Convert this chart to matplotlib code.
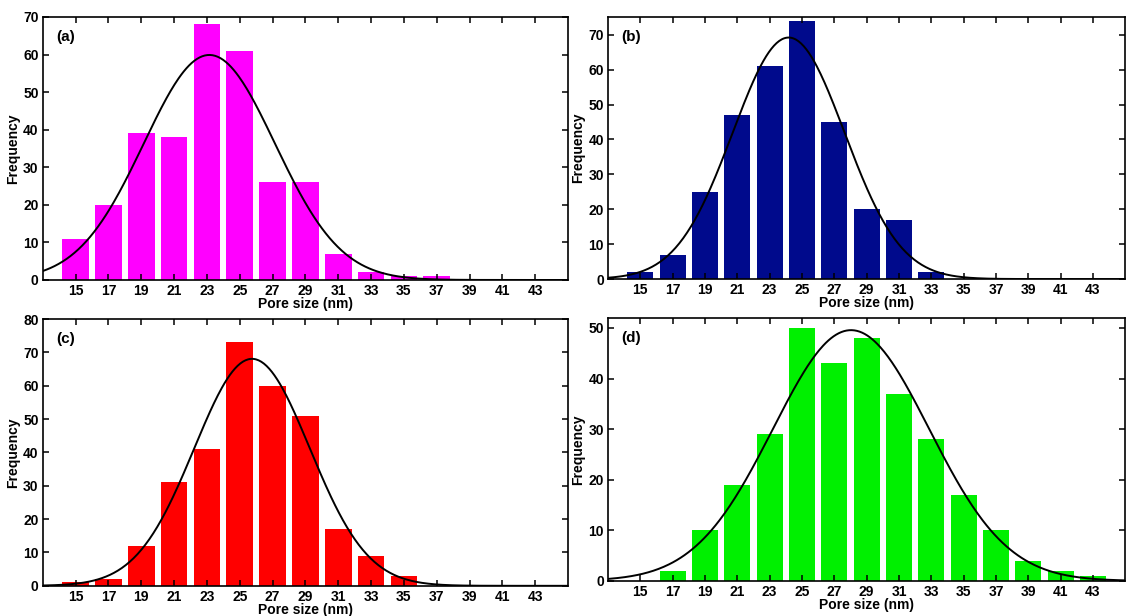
import numpy as np
import matplotlib
matplotlib.use("Agg")
import matplotlib.pyplot as plt

plt.rcParams['font.family'] = ['Liberation Sans', 'DejaVu Sans']
plt.rcParams['font.weight'] = 'bold'

# pore size bin centres (nm) and counts
sizes_a = [15, 17, 19, 21, 23, 25, 27, 29, 31, 33, 35, 37]
counts_a = [11, 20, 39, 38, 68, 61, 26, 26, 7, 2, 1, 1]

sizes_b = [15, 17, 19, 21, 23, 25, 27, 29, 31, 33]
counts_b = [2, 7, 25, 47, 61, 74, 45, 20, 17, 2]

sizes_c = [15, 17, 19, 21, 23, 25, 27, 29, 31, 33, 35]
counts_c = [1, 2, 12, 31, 41, 73, 60, 51, 17, 9, 3]

sizes_d = [17, 19, 21, 23, 25, 27, 29, 31, 33, 35, 37, 39, 41, 43]
counts_d = [2, 10, 19, 29, 50, 43, 48, 37, 28, 17, 10, 4, 2, 1]

xticks = list(range(15, 45, 2))
bin_w = 2

panels = [
    ('(a)', sizes_a, counts_a, '#ff00ff', 70, [0.038, 0.5455, 0.466, 0.427]),
    ('(b)', sizes_b, counts_b, '#000a8c', 75, [0.5395, 0.547, 0.459, 0.425]),
    ('(c)', sizes_c, counts_c, '#ff0000', 80, [0.038, 0.049, 0.466, 0.433]),
    ('(d)', sizes_d, counts_d, '#00f000', 52, [0.5395, 0.057, 0.459, 0.427]),
]

fig = plt.figure(figsize=(11.27, 6.16), dpi=100)

for label, x, y, color, ytop, pos in panels:
    ax = fig.add_axes(pos)
    x = np.array(x, dtype=float)
    y = np.array(y, dtype=float)
    ax.bar(x, y, width=1.62, color=color, edgecolor='none')

    # normal fit scaled to the histogram (like histfit)
    n = y.sum()
    mu = (x * y).sum() / n
    sd = np.sqrt(((x - mu) ** 2 * y).sum() / (n - 1))
    xx = np.linspace(13, 45, 400)
    yy = n * bin_w / (sd * np.sqrt(2 * np.pi)) * np.exp(-(xx - mu) ** 2 / (2 * sd ** 2))
    ax.plot(xx, yy, color='black', lw=1.4)

    ax.set_xlim(13, 45)
    ax.set_ylim(0, ytop)
    ax.set_xticks(xticks)
    ax.set_yticks(range(0, ytop + 1, 10))
    ax.tick_params(direction='in', top=True, right=True, length=4, width=1.1,
                   labelsize=10, pad=3)
    for t in ax.get_xticklabels() + ax.get_yticklabels():
        t.set_fontweight('bold')
    for s in ax.spines.values():
        s.set_linewidth(1.2)
    ax.set_xlabel('Pore size (nm)', fontsize=10, fontweight='bold', labelpad=-1)
    ax.set_ylabel('Frequency', fontsize=10, fontweight='bold', labelpad=2)
    ax.text(0.025, 0.95, label, transform=ax.transAxes, fontsize=11,
            fontweight='bold', va='top', ha='left')

fig.savefig('out.png', dpi=100)
